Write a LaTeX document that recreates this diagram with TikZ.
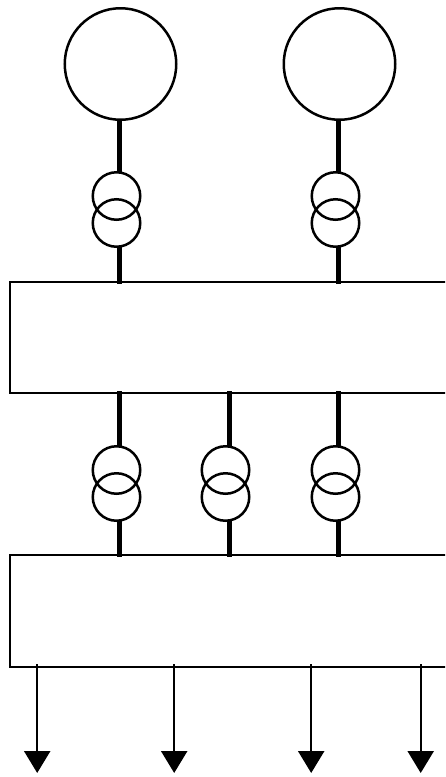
\documentclass[tikz,border=0pt]{standalone}
\usetikzlibrary{arrows.meta}
\begin{document}
\begin{tikzpicture}[x=1pt,y=-1pt,
  gen/.style={draw=black,line width=2.5pt,circle,minimum size=111.5pt,inner sep=0pt,outer sep=0pt},
  coil/.style={draw=black,line width=2.5pt,circle,minimum size=47.5pt,inner sep=0pt,outer sep=0pt},
  busbox/.style={draw=black,line width=2.5pt,rectangle,minimum width=450pt,inner sep=0pt,outer sep=0pt,anchor=north west},
  heavy/.style={line width=5.4pt,black},
  feeder/.style={line width=2.4pt,black,shorten <=-3pt,-{Triangle[width=26pt,length=22pt,sep=0pt]}}]
\useasboundingbox (0,0) rectangle (445,777);
\clip (0,0) rectangle (445,777);
% columns
\coordinate (ca) at (119.5,0);
\coordinate (cb) at (229.5,0);
\coordinate (cc) at (338.5,0);
% generators
\node[gen] (g1) at (120.5,64) {};
\node[gen] (g2) at (339.5,64) {};
% busbars
\node[busbox,minimum height=111pt] (b1) at (10,282) {};
\node[busbox,minimum height=112pt] (b2) at (10,555) {};
% upper transformers
\node[coil] (ua1) at (116.5,196) {};
\node[coil] (ua2) at (116.5,223) {};
\node[coil] (ub1) at (335.5,196) {};
\node[coil] (ub2) at (335.5,223) {};
% lower transformers
\node[coil] (la1) at (116.5,470) {};
\node[coil] (la2) at (116.5,497) {};
\node[coil] (lb1) at (225.5,470) {};
\node[coil] (lb2) at (225.5,497) {};
\node[coil] (lc1) at (335.5,470) {};
\node[coil] (lc2) at (335.5,497) {};
% heavy connectors
\draw[heavy] (g1.south -| ca) -- (ua1.north -| ca);
\draw[heavy] (g2.south -| cc) -- (ub1.north -| cc);
\draw[heavy,shorten >=-2pt] (ua2.south -| ca) -- (b1.north -| ca);
\draw[heavy,shorten >=-2pt] (ub2.south -| cc) -- (b1.north -| cc);
\draw[heavy,shorten <=-2pt] (b1.south -| ca) -- (la1.north -| ca);
\draw[heavy,shorten <=-2pt] (b1.south -| cb) -- (lb1.north -| cb);
\draw[heavy,shorten <=-2pt] (b1.south -| cc) -- (lc1.north -| cc);
\draw[heavy,shorten >=-2pt] (la2.south -| ca) -- (b2.north -| ca);
\draw[heavy,shorten >=-2pt] (lb2.south -| cb) -- (b2.north -| cb);
\draw[heavy,shorten >=-2pt] (lc2.south -| cc) -- (b2.north -| cc);
% feeders
\coordinate (f1) at (37.2,773);
\coordinate (f2) at (174.2,773);
\coordinate (f3) at (311.2,773);
\coordinate (f4) at (420.7,773);
\draw[feeder] (b2.south -| f1) -- (f1);
\draw[feeder] (b2.south -| f2) -- (f2);
\draw[feeder] (b2.south -| f3) -- (f3);
\draw[feeder] (b2.south -| f4) -- (f4);
\end{tikzpicture}
\end{document}
